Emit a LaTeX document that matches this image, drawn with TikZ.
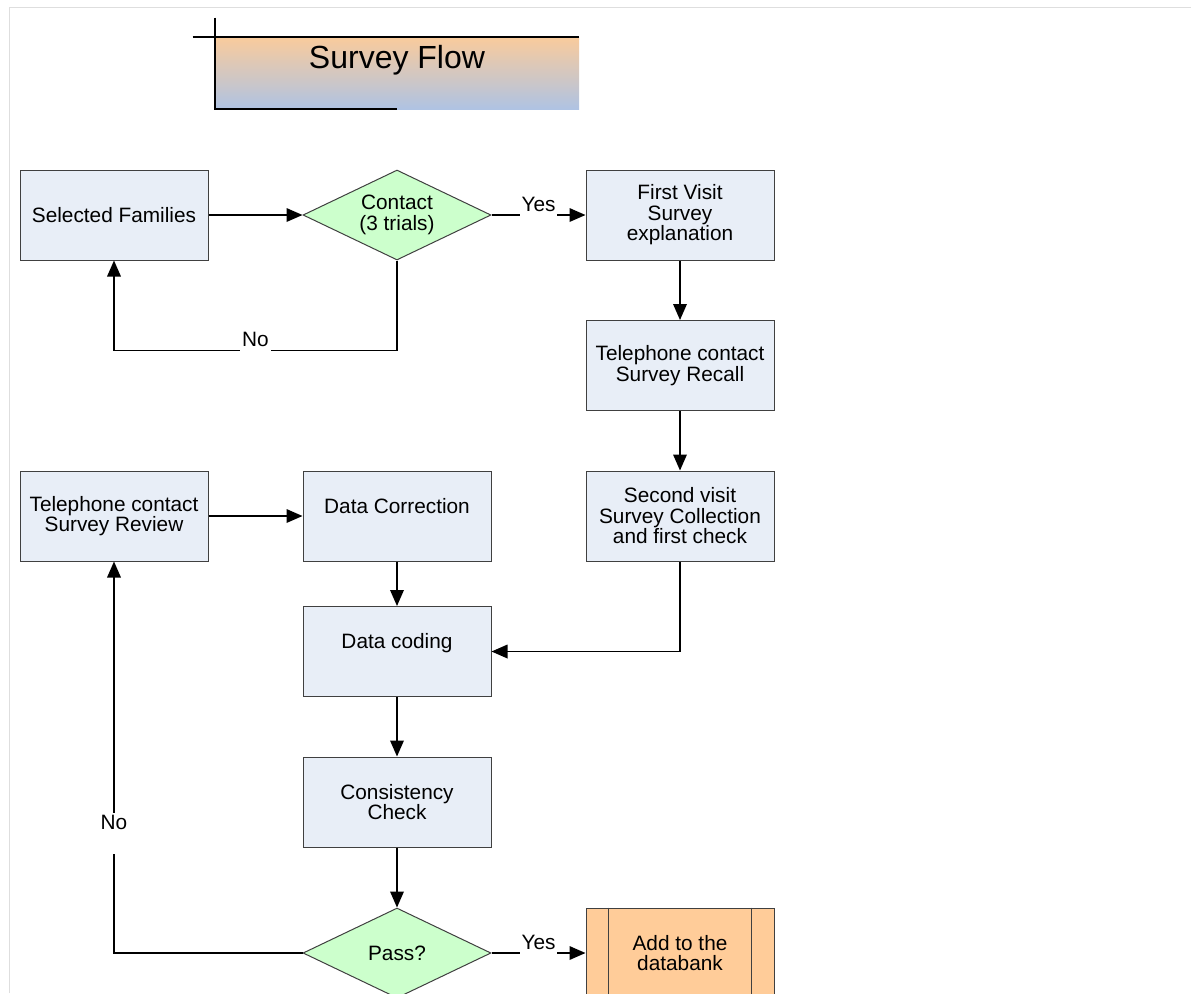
\documentclass[tikz,border=0pt]{standalone}
\usepackage{fontspec}
\setmainfont{Liberation Sans}
\usetikzlibrary{shapes.geometric,arrows.meta}
\definecolor{boxblue}{HTML}{E8EEF7}
\definecolor{diagreen}{HTML}{CCFFCC}
\definecolor{dbpeach}{HTML}{FFCC99}
\definecolor{titletop}{HTML}{F9CB9C}
\definecolor{titlebot}{HTML}{AFC3E3}
\begin{document}
\begin{tikzpicture}[x=0.5pt, y=-0.5pt, font=\fontsize{10.4}{10.25}\selectfont,
  stepbox/.style={draw=black!75, line width=0.5pt, fill=boxblue, minimum width=94pt, minimum height=45pt, align=center, inner sep=2pt},
  decision/.style={diamond, aspect=2, draw=black!75, line width=0.5pt, fill=diagreen, minimum width=94pt, minimum height=45pt, inner sep=0pt, align=center},
  databox/.style={stepbox, fill=dbpeach},
  arr/.style={line width=0.75pt, -{Triangle[length=8pt, width=6.8pt]}},
  lbl/.style={fill=white, inner sep=1pt, anchor=base, yshift=2pt, text depth=0.35em},
  vlbl/.style={fill=white, inner sep=1pt, anchor=north, text height=0.75em, text depth=1.1em},
  titlebox/.style={minimum width=182pt, minimum height=36pt, inner sep=0pt, top color=titletop, bottom color=titlebot},
  titleline/.style={line width=1pt}]
  \useasboundingbox (0,0) rectangle (1191,993);
  \clip (0,0) rectangle (1191,993);
  \draw[black!13] (9,993) -- (9,7) -- (1191,7);
  \node[titlebox] (title) at (397,73) {};
  \node[font=\fontsize{16}{19}\selectfont] (titletext) at ([yshift=6.5pt]title.center) {Survey Flow};
  \draw[titleline] ([xshift=-11pt]title.north west) -- (title.north east);
  \draw[titleline] ([yshift=9.5pt]title.north west) -- (title.south west) -- (title.south);
  \node[stepbox] (families) at (114,215) {Selected Families};
  \node[decision] (contact) at (397,215) {Contact\\(3 trials)};
  \node[stepbox] (visit) at (680,215) {First Visit\\Survey\\explanation};
  \node[stepbox] (recall) at (680,365.5) {Telephone contact\\Survey Recall};
  \node[stepbox] (collect) at (680,516) {Second visit\\Survey Collection\\and first check};
  \node[stepbox] (review) at (114,516) {Telephone contact\\Survey Review};
  \node[stepbox] (correct) at (397,516) {Data Correction\\~};
  \node[stepbox] (coding) at (397,651.5) {Data coding\\~};
  \node[stepbox] (check) at (397,802) {Consistency\\Check};
  \node[decision] (pass) at (397,953) {Pass?};
  \node[databox] (databank) at (680,953) {Add to the\\databank};
  \draw[black!75, line width=0.5pt] ([xshift=11.5pt]databank.north west) -- ([xshift=11.5pt]databank.south west)
    ([xshift=-11.5pt]databank.north east) -- ([xshift=-11.5pt]databank.south east);
  \draw[arr] (families) -- (contact);
  \draw[arr] (contact) -- node[lbl] {Yes} (visit);
  \draw[arr] (contact.south) |- node[lbl, pos=0.75] {No} ([yshift=-45pt]families.south) -- (families.south);
  \draw[arr] (visit) -- (recall);
  \draw[arr] (recall) -- (collect);
  \draw[arr] (collect.south) |- (coding.east);
  \draw[arr] (review) -- (correct);
  \draw[arr] (correct) -- (coding);
  \draw[arr] (coding) -- (check);
  \draw[arr] (check) -- (pass);
  \draw[arr] (pass) -- node[lbl] {Yes} (databank);
  \draw[arr] (pass.west) -| node[vlbl, pos=0.68] {No} (review.south);
\end{tikzpicture}
\end{document}
